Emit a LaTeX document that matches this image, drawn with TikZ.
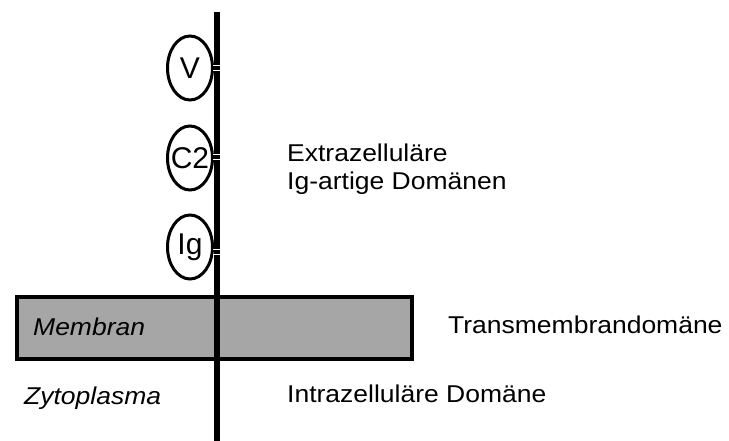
\documentclass[tikz,border=0pt]{standalone}
\usepackage{fontspec}
\setmainfont{Liberation Sans}[FakeStretch=1.09]
\newfontfamily\domfont{Liberation Sans}
\usetikzlibrary{shapes.geometric}
\begin{document}
\begin{tikzpicture}[x=1pt,y=-1pt,
  lbl/.style={font=\fontsize{24.3}{28}\selectfont, inner sep=0pt, anchor=base west},
  dom/.style={draw=black, line width=3pt, fill=white, ellipse, minimum width=45pt, minimum height=64pt, inner sep=0pt,
    label={[font=\domfont\fontsize{30}{32}\selectfont, inner sep=0pt]center:#1}},
  stripe/.style={draw=white, line width=1.1pt}]
\useasboundingbox (0,0) rectangle (729,441);
% membrane
\node[draw=black, line width=4pt, fill=black!35, minimum width=395pt, minimum height=62pt, inner sep=0pt, anchor=north west] (mem) at (15,295) {};
% domains
\node[dom=V] (V) at (190,68) {};
\node[dom=C2] (C2) at (190,158) {};
\node[dom=Ig] (Ig) at (190,247) {};
% chain
\coordinate (top) at (217,12);
\coordinate (bot) at (217,441);
\draw[line width=6pt] (top) -- (bot);
% stripes
\foreach \n/\yc in {V/68,C2/157,Ig/252}{
  \draw[stripe] (213,\yc-2.6) -- (222,\yc-2.6);
  \draw[stripe] (213,\yc+2.6) -- (222,\yc+2.6);
}
% labels
\node[lbl, font=\fontsize{24.3}{28}\selectfont\itshape] (membran) at (33,335) {Membran};
\node[lbl, font=\fontsize{24.3}{28}\selectfont\itshape] (zyto) at (24,404) {Zytoplasma};
\node[lbl] (ex1) at (287,162) {Extrazelluläre};
\node[lbl] (ex2) at (287,190) {Ig-artige Domänen};
\node[lbl] (tm) at (448,333) {Transmembrandomäne};
\node[lbl] (intra) at (287,402) {Intrazelluläre Domäne};
\end{tikzpicture}
\end{document}
